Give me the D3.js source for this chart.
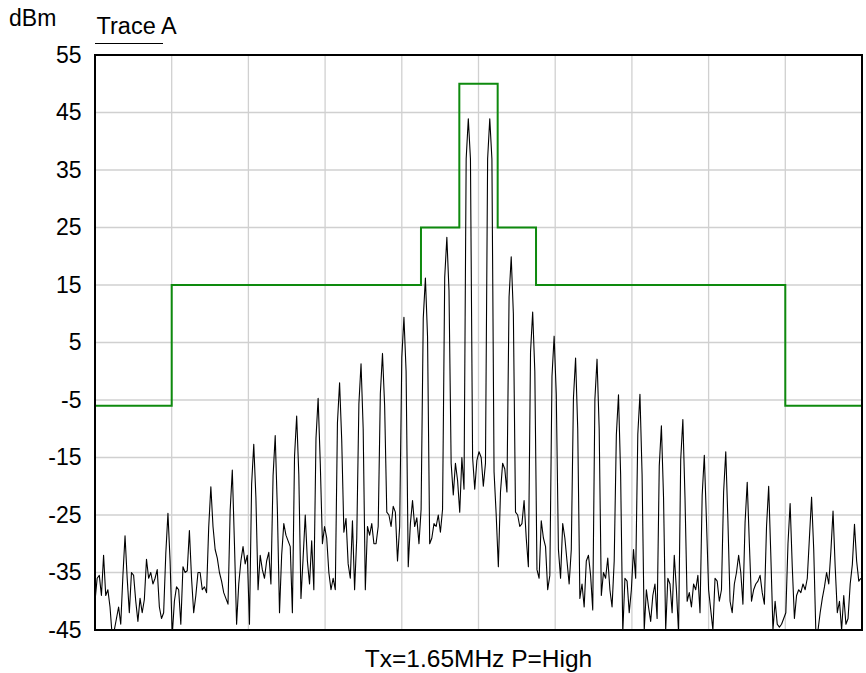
<!DOCTYPE html>
<html>
<head>
<meta charset="utf-8">
<script src="https://cdn.jsdelivr.net/npm/d3@7"></script>
<style>
  body { margin: 0; background: #fff; }
  text { font-family: "Liberation Sans", Arial, sans-serif; fill: #000; }
</style>
</head>
<body>
<svg width="866" height="673"></svg>
<script>

// y axis tick labels (dBm)
var yTicks = [55, 45, 35, 25, 15, 5, -5, -15, -25, -35, -45];

// limit mask: level starts at each edge (x in grid divisions, 0..10)
var maskEdges = [0, 1, 4.25, 4.75, 5.25, 5.75, 9, 10];
var maskLevels = [-6, 15, 25, 50, 25, 15, -6, -6];

// Trace A, dBm, uniformly sampled across the 10 divisions (358 samples)
// each row starts on a harmonic peak
var traceA = [].concat(
  [-40, -36, -35.5, -39],
  [-32, -39, -38, -41, -46, -45, -43, -41, -44, -35.6],
  [-28.6, -36, -42, -35, -35.5, -40, -43.5, -39.5, -42, -39.7],
  [-32.7, -36, -35, -37, -36, -34.5, -41, -43, -42, -31.7],
  [-24.7, -33, -46, -40, -37.5, -38, -44, -34, -35, -34.7],
  [-27.7, -36, -42, -39, -35, -35, -38, -37.5, -38.5, -27.1],
  [-20.1, -27, -31, -32.5, -35, -36.5, -38.5, -39.5, -40.5, -24.2],
  [-17.2, -30, -44, -37, -33, -30.5, -33.5, -32, -44, -19.7],
  [-12.7, -22, -38, -32, -34.5, -36, -33, -31.5, -37, -18.2],
  [-11.2, -24, -42, -32, -26.5, -28.5, -29.5, -30.5, -42, -14.8],
  [-7.8, -18, -39.5, -32.5, -25, -33, -37, -29.5, -38, -11.7],
  [-4.7, -16, -30, -27, -29, -35, -38, -36, -38, -9],
  [-2, -12, -28, -25.6, -33.5, -36, -26, -38, -29, -5.7],
  [1.3, -10, -38, -27, -28.5, -26.5, -30, -30, -27, -3.9],
  [3.1, -6, -24.5, -25, -27, -23.5, -24.5, -33, -27, 2.4],
  [9.4, 0, -34, -26.5, -22.5, -27, -25.5, -30, -24, 9.2],
  [16.2, 6, -30, -29, -26.5, -27, -25, -28, -24, 16.3],
  [23.3, 14, -16, -21.5, -16, -19, -24.5, -15, -20.5, 36.9],
  [43.9, 36.9, -15, -20.5, -15.5, -14, -15, -20, -16, 36.9],
  [43.9, 36.9, -17.5, -25, -34, -21, -16, -17, -21, 12.9],
  [19.9, 10, -24.5, -25, -27, -26.5, -22.5, -29, -34, 3.3],
  [10.3, 0, -34.5, -36, -26, -29, -30.5, -38, -35.5, -0.9],
  [6.1, -4, -31, -36, -26.5, -29, -33, -37, -31, -4.7],
  [2.3, -10, -39.5, -37, -41, -33, -32, -35.5, -41.5, -4.9],
  [2.1, -10, -39, -35, -36, -32.5, -38, -41, -33, -11.1],
  [-4.1, -18, -45.5, -36, -36.5, -42, -38, -31, -36, -11],
  [-4, -18, -45, -38, -41, -43.5, -39, -37, -43, -16.5],
  [-9.5, -22, -45, -36, -37, -42, -32, -38, -45.5, -15.4],
  [-8.4, -22, -40, -38.5, -41, -37, -38, -35.5, -42, -21.6],
  [-14.6, -26, -38, -41.5, -45, -36, -36.5, -40, -38, -21],
  [-14, -26, -40, -42, -37, -35, -32, -35, -40.5, -26.3],
  [-19.3, -30, -40, -38, -37, -36.5, -35.5, -38.5, -40.5, -27],
  [-20, -32, -45, -40, -44, -44.5, -44, -43, -42, -30],
  [-23, -34, -43, -39, -38, -38.5, -37, -38, -36, -28.9],
  [-21.9, -31, -45.5, -45, -42, -39.5, -37.5, -35, -37, -31.3],
  [-24.3, -34, -42, -40, -45, -39, -44, -43, -37, -33.6],
  [-26.6, -33, -36.5, -36]
);

var svg = d3.select("svg"),
    plotLeft = 95, plotTop = 55, plotRight = 862, plotBottom = 630;

var xScale = d3.scaleLinear().domain([0, 10]).range([plotLeft, plotRight]),
    yScale = d3.scaleLinear().domain([-45, 55]).range([plotBottom, plotTop]);

var step = 10 / 357.5;  // divisions per trace sample

// grid
var grid = svg.append("g").attr("stroke", "#d0d0d0").attr("stroke-width", 1.3);
grid.selectAll(".vgrid")
    .data(d3.range(1, 10))
    .enter().append("line")
    .attr("x1", function(d) { return xScale(d); })
    .attr("x2", function(d) { return xScale(d); })
    .attr("y1", plotTop).attr("y2", plotBottom);
grid.selectAll(".hgrid")
    .data(yTicks.slice(1, -1))
    .enter().append("line")
    .attr("x1", plotLeft).attr("x2", plotRight)
    .attr("y1", function(d) { return yScale(d); })
    .attr("y2", function(d) { return yScale(d); });

svg.append("clipPath").attr("id", "plotclip")
   .append("rect")
   .attr("x", plotLeft).attr("y", plotTop)
   .attr("width", plotRight - plotLeft).attr("height", plotBottom - plotTop);

// trace
var line = d3.line()
    .x(function(d, i) { return xScale(i * step); })
    .y(function(d) { return yScale(d); });

svg.append("path")
   .datum(traceA)
   .attr("clip-path", "url(#plotclip)")
   .attr("fill", "none")
   .attr("stroke", "#000")
   .attr("stroke-width", 1.1)
   .attr("stroke-linejoin", "round")
   .attr("d", line);

// mask
var maskLine = d3.line()
    .curve(d3.curveStepAfter)
    .x(function(d, i) { return xScale(maskEdges[i]); })
    .y(function(d) { return yScale(d); });

svg.append("path")
   .datum(maskLevels)
   .attr("fill", "none")
   .attr("stroke", "#0e8a0e")
   .attr("stroke-width", 2)
   .attr("d", maskLine);

// frame
svg.append("rect")
   .attr("x", plotLeft).attr("y", plotTop)
   .attr("width", plotRight - plotLeft).attr("height", plotBottom - plotTop)
   .attr("fill", "none").attr("stroke", "#000").attr("stroke-width", 2);

// y axis labels
var yAxis = svg.append("g")
   .attr("transform", "translate(" + plotLeft + ",0)")
   .call(d3.axisLeft(yScale).tickValues(yTicks).tickSize(0).tickPadding(13.5)
         .tickFormat(function(d) { return String(d); }));
yAxis.select(".domain").remove();
yAxis.selectAll("text")
   .style("font-family", "'Liberation Sans', Arial, sans-serif")
   .style("font-size", "23px");

svg.append("text").attr("x", 9).attr("y", 26)
   .style("font-size", "23px").text("dBm");

svg.append("text").attr("x", 96.5).attr("y", 33.5)
   .style("font-size", "23.5px").text("Trace A");
svg.append("line")
   .attr("x1", 95).attr("x2", 163).attr("y1", 43.5).attr("y2", 43.5)
   .attr("stroke", "#000").attr("stroke-width", 1);

svg.append("text")
   .attr("x", xScale(5)).attr("y", 667)
   .attr("text-anchor", "middle")
   .style("font-size", "24.5px")
   .text("Tx=1.65MHz P=High");

</script>
</body>
</html>
